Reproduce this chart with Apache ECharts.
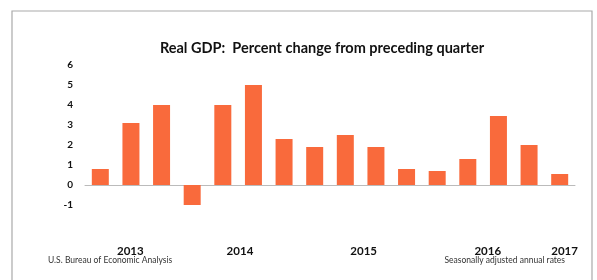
<!DOCTYPE html>
<html><head><meta charset="utf-8">
<script src="https://cdn.jsdelivr.net/npm/echarts@6/dist/echarts.min.js"></script>
<style>html,body{margin:0;padding:0;background:#fff}#c{width:597px;height:280px}</style>
</head><body><div id="c"></div>
<script>
const quarters = ['2013Q1','2013Q2','2013Q3','2013Q4','2014Q1','2014Q2','2014Q3','2014Q4','2015Q1','2015Q2','2015Q3','2015Q4','2016Q1','2016Q2','2016Q3','2016Q4'];
const gdpChange = [0.8, 3.1, 4.0, -1.1, 4.0, 5.0, 2.3, 1.9, 2.5, 1.9, 0.8, 0.7, 1.3, 3.45, 2.0, 0.55];
const yearLabels = ['2013','2014','2015','2016','2017'];
const yearAt = [1.48, 5.06, 9.1, 13.15, 15.66];
const yTicks = [-1, 0, 1, 2, 3, 4, 5, 6];

const chart = echarts.init(document.getElementById('c'));
const font = 'Lato, "Open Sans", sans-serif';
chart.setOption({
  animation: false,
  backgroundColor: '#fff',
  title: {
    text: 'Real GDP:  Percent change from preceding quarter',
    left: 317, top: 36, textAlign: 'center',
    textStyle: {fontFamily: font, fontSize: 14.5, fontWeight: 'bold', color: '#111'}
  },
  graphic: [
    {type: 'rect', shape: {x: 12, y: 11, width: 580, height: 280},
     style: {fill: 'none', stroke: '#aaa', lineWidth: 1.2}, silent: true},
    {type: 'text', left: 48, top: 256,
     style: {text: 'U.S. Bureau of Economic Analysis', font: '8.5px ' + font, fill: '#333'}},
    {type: 'text', right: 32, top: 256,
     style: {text: 'Seasonally adjusted annual rates', font: '8.5px ' + font, fill: '#333'}}
  ],
  grid: {left: 85, right: 22, top: 65, bottom: 75},
  xAxis: [
    {type: 'category', data: quarters,
     axisLine: {onZeroAxisIndex: 0, lineStyle: {color: '#bbb', width: 1}},
     axisTick: {show: false}, axisLabel: {show: false}},
    {type: 'value', min: 0, max: 16, position: 'bottom',
     axisLine: {show: false}, axisTick: {show: false}, splitLine: {show: false},
     axisLabel: {customValues: yearAt, margin: 40,
       formatter: v => { const i = yearAt.indexOf(v); return i >= 0 ? yearLabels[i] : ''; },
       fontFamily: font, fontSize: 11.5, fontWeight: 'bold', color: '#111'}}
  ],
  yAxis: {
    type: 'value', min: -1, max: 6, interval: 1,
    axisLine: {show: false}, axisTick: {show: false}, splitLine: {show: false},
    axisLabel: {margin: 12, fontFamily: font, fontSize: 10, fontWeight: 'bold', color: '#111',
      formatter: v => yTicks.includes(v) ? String(v) : ''}
  },
  series: [{
    type: 'bar', data: gdpChange, xAxisIndex: 0,
    barWidth: 17,
    itemStyle: {color: '#f96a3c'}
  }]
});
</script></body></html>
